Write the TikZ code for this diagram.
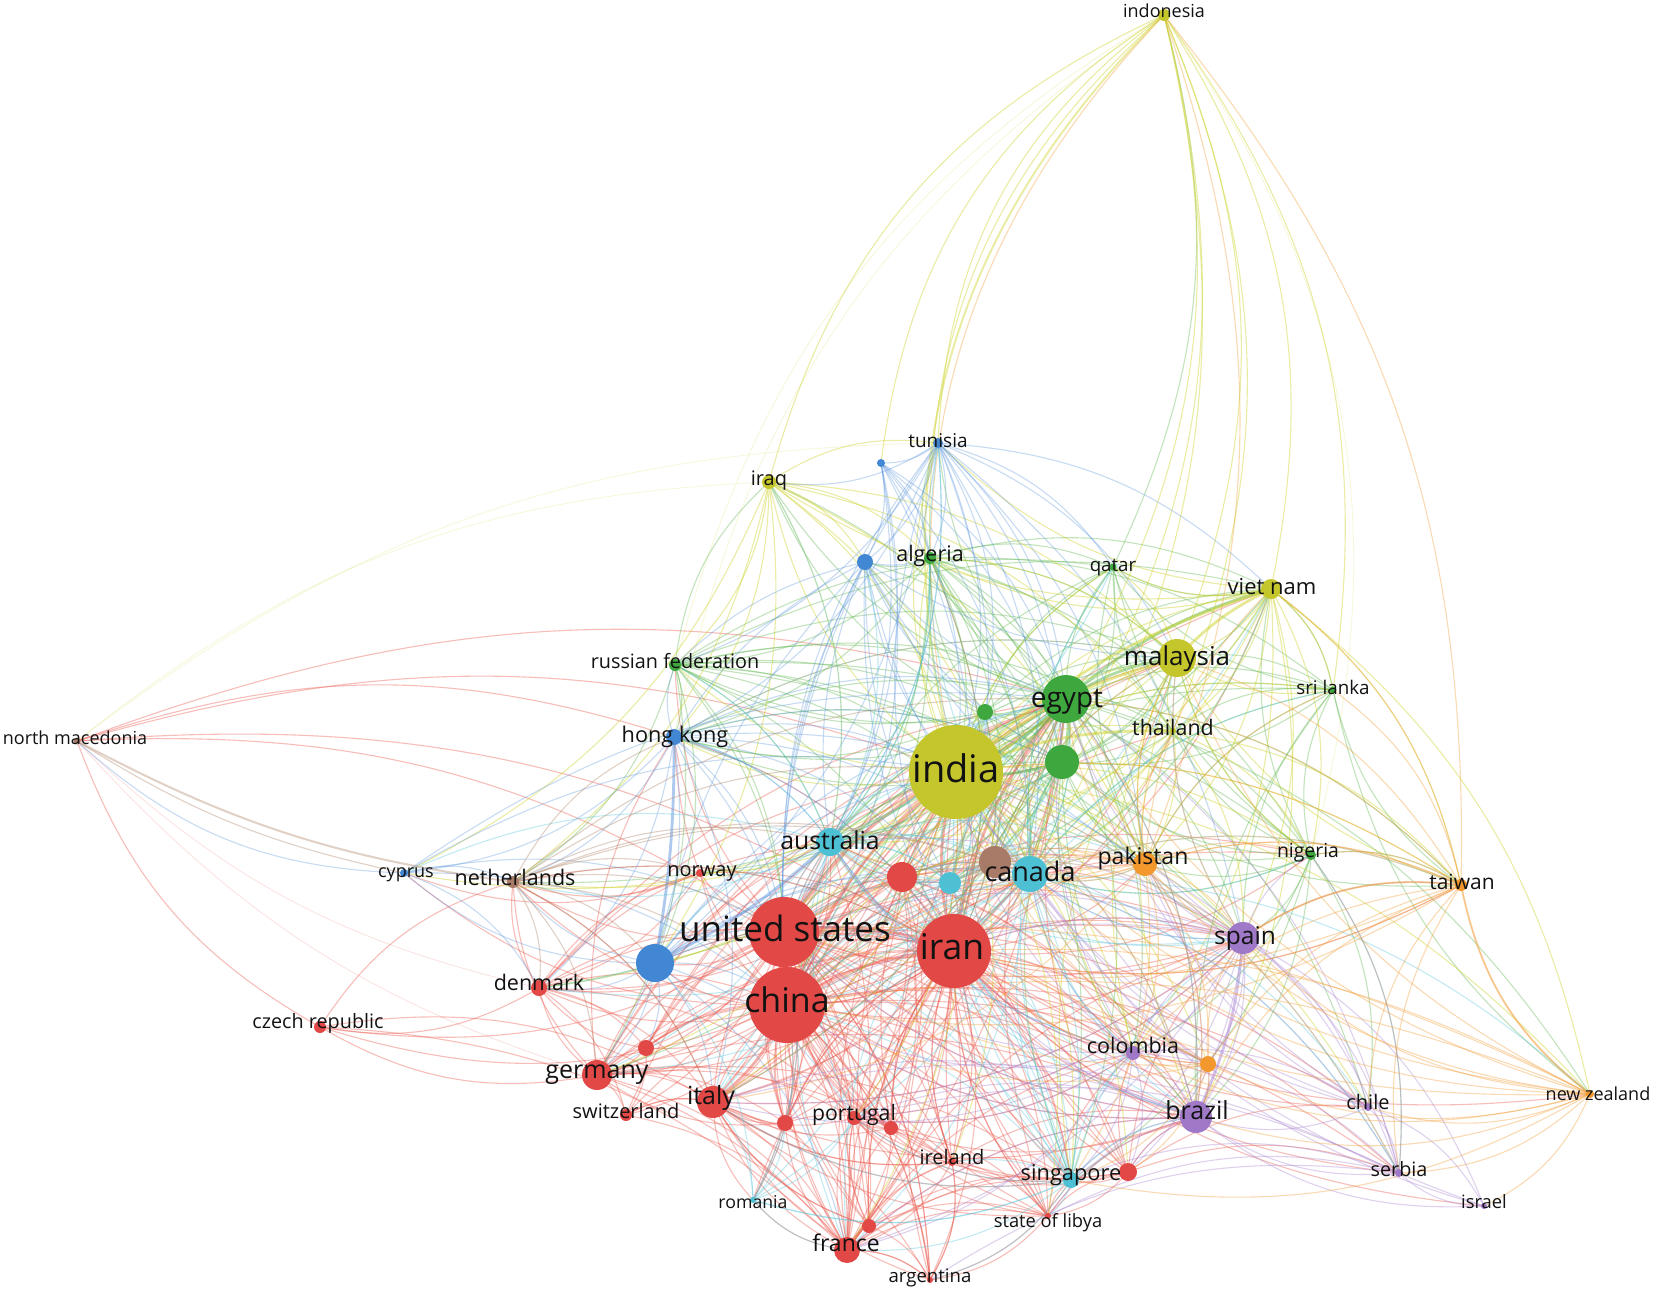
\documentclass[tikz,border=0pt]{standalone}
\usepackage{fontspec}
\setmainfont{Open Sans}
\pgfdeclarelayer{edges}
\pgfsetlayers{edges,main}
\definecolor{cR}{RGB}{225,72,70}
\definecolor{cG}{RGB}{62,168,62}
\definecolor{cB}{RGB}{66,135,212}
\definecolor{cY}{RGB}{196,198,44}
\definecolor{cP}{RGB}{160,120,200}
\definecolor{cC}{RGB}{78,192,212}
\definecolor{cO}{RGB}{242,152,44}
\definecolor{cBr}{RGB}{168,122,104}
\definecolor{eRc}{RGB}{236,92,80}
\definecolor{eGc}{RGB}{96,184,80}
\definecolor{eBc}{RGB}{92,150,222}
\definecolor{eYc}{RGB}{206,210,40}
\definecolor{ePc}{RGB}{172,134,210}
\definecolor{eCc}{RGB}{86,198,220}
\definecolor{eOc}{RGB}{244,158,56}
\definecolor{eBrc}{RGB}{176,132,104}
\definecolor{labc}{RGB}{18,18,18}
\newcommand{\vfan}[4]{\foreach \tgt in {#4}{\draw[#1] (#2.center) to[bend left=#3] (\tgt.center);}}
\begin{document}
\begin{tikzpicture}[x=1pt,y=-1pt,
  nd/.style={circle,inner sep=0pt,minimum size=#1,draw=none},
  lab/.style={font=\fontsize{#1}{#1}\selectfont,text=labc,inner sep=0pt,text height={0.72*#1},text depth={0.18*#1}},
  ebase/.style={line width=1.1pt,draw opacity=0.34},
  eR/.style={ebase,draw=eRc,draw opacity=0.4},
  eG/.style={ebase,draw=eGc,draw opacity=0.38},
  eB/.style={ebase,draw=eBc},
  eY/.style={ebase,draw=eYc,draw opacity=0.42},
  eP/.style={ebase,draw=ePc,draw opacity=0.38},
  eC/.style={ebase,draw=eCc,draw opacity=0.36},
  eO/.style={ebase,draw=eOc,draw opacity=0.38},
  eBr/.style={ebase,draw=eBrc,draw opacity=0.38},
  faint/.style={line width=0.8pt,draw opacity=0.18},
  thick2/.style={line width=2.8pt,draw opacity=0.5}]
\useasboundingbox (0,0) rectangle (1655,1291);
% ---------------- nodes ----------------
\node[nd=12,fill=cY] (indo) at (1164,15) {};
\node[nd=10,fill=cB] (tun) at (938,443) {};
\node[nd=8,fill=cB] (bdot) at (881,463) {};
\node[nd=14,fill=cY] (iraq) at (769,482) {};
\node[nd=16,fill=cB] (bnode) at (865,562) {};
\node[nd=12,fill=cG] (alg) at (930,558) {};
\node[nd=7,fill=cG] (qat) at (1113,567) {};
\node[nd=20,fill=cY] (viet) at (1271,589) {};
\node[nd=12,fill=cG] (rus) at (675,665) {};
\node[nd=38,fill=cY] (mal) at (1177,658) {};
\node[nd=48,fill=cG] (egy) at (1066,699) {};
\node[nd=7,fill=cG] (sri) at (1333,690) {};
\node[nd=16,fill=cG] (gsm) at (985,712) {};
\node[nd=16,fill=cB] (hk) at (674,737) {};
\node[nd=7,fill=cBr] (nmac) at (77,741) {};
\node[nd=6,fill=cY] (thai) at (1173,731) {};
\node[nd=34,fill=cG] (ggr) at (1062,762) {};
\node[nd=94,fill=cY] (india) at (956,772) {};
\node[nd=28,fill=cC] (aus) at (830,842) {};
\node[nd=32,fill=cBr] (brn) at (995,862) {};
\node[nd=30,fill=cR] (rc) at (902,877) {};
\node[nd=22,fill=cC] (csm) at (950,883) {};
\node[nd=36,fill=cC] (can) at (1030,874) {};
\node[nd=24,fill=cO] (pak) at (1145,864) {};
\node[nd=10,fill=cG] (nig) at (1311,855) {};
\node[nd=12,fill=cO] (tai) at (1461,885) {};
\node[nd=8,fill=cB] (cyp) at (404,873) {};
\node[nd=12,fill=cBr] (neth) at (513,882) {};
\node[nd=8,fill=cR] (nor) at (700,873) {};
\node[nd=70,fill=cR] (usa) at (784,932) {};
\node[nd=74,fill=cR] (iran) at (954,951) {};
\node[nd=32,fill=cP] (spa) at (1243,938) {};
\node[nd=38,fill=cB] (bbig) at (655,963) {};
\node[nd=16,fill=cR] (den) at (539,988) {};
\node[nd=76,fill=cR] (chn) at (787,1005) {};
\node[nd=12,fill=cR] (cze) at (320,1027) {};
\node[nd=14,fill=cP] (col) at (1133,1053) {};
\node[nd=16,fill=cO] (orn) at (1208,1064) {};
\node[nd=30,fill=cR] (ger) at (597,1075) {};
\node[nd=16,fill=cR] (rsma) at (646,1048) {};
\node[nd=32,fill=cR] (ita) at (713,1102) {};
\node[nd=12,fill=cR] (swi) at (626,1115) {};
\node[nd=14,fill=cR] (por) at (854,1118) {};
\node[nd=16,fill=cR] (rsmb) at (785,1123) {};
\node[nd=14,fill=cR] (rsmc) at (891,1128) {};
\node[nd=32,fill=cP] (bra) at (1196,1117) {};
\node[nd=8,fill=cP] (chi) at (1368,1107) {};
\node[nd=8,fill=cO] (nz) at (1590,1094) {};
\node[nd=8,fill=cR] (ire) at (952,1162) {};
\node[nd=16,fill=cC] (sing) at (1071,1180) {};
\node[nd=18,fill=cR] (rsg) at (1128,1172) {};
\node[nd=8,fill=cP] (ser) at (1399,1173) {};
\node[nd=6,fill=cC] (rom) at (753,1200) {};
\node[nd=6,fill=cP] (isr) at (1484,1206) {};
\node[nd=6,fill=cR] (lib) at (1048,1216) {};
\node[nd=14,fill=cR] (rsmd) at (869,1226) {};
\node[nd=26,fill=cR] (fra) at (847,1250) {};
\node[nd=6,fill=cR] (arg) at (930,1280) {};
% ---------------- edges ----------------
\begin{pgfonlayer}{edges}
\fill[white] (0,0) rectangle (1655,1291);
% red
\vfan{eR}{chn}{20}{india,aus,brn,rc,csm,can,pak,nor,bbig,den,ger,rsma,ita,swi,por,rsmb,rsmc,bra,col,ire,sing,rsg,rom,lib,rsmd,fra,arg,spa,egy,ggr,mal,neth,cze,hk,orn,nig,chi,ser,thai,viet,cyp}
\vfan{eR}{usa}{20}{india,aus,brn,rc,csm,can,pak,nor,bbig,den,ger,rsma,ita,swi,por,rsmb,rsmc,bra,col,ire,sing,rsg,rom,lib,rsmd,fra,arg,spa,egy,ggr,mal,neth,cze,hk,orn,nig,chi,ser,rus}
\vfan{eR}{iran}{-20}{india,aus,brn,rc,csm,can,pak,nor,bbig,den,ger,rsma,ita,swi,por,rsmb,rsmc,bra,col,ire,sing,rsg,rom,lib,rsmd,fra,arg,spa,egy,ggr,gsm,mal,viet,thai,neth,hk,orn,nig,chi,ser,alg,tai,nz,isr}
\vfan{eR,thick2}{chn}{15}{usa,iran,india,ita}
\vfan{eR,thick2}{usa}{15}{iran,india}
\vfan{eR,thick2}{iran}{15}{india,egy}
\vfan{eR}{chn}{-18}{ita,ger,fra,por,den,rsma,rsmb,rsmc,iran,spa,bra,can,aus,india,egy}
\vfan{eR}{usa}{-18}{chn,ita,ger,fra,por,den,rsma,rsmb,rsmc,iran,spa,bra,can,aus,egy}
\vfan{eR}{iran}{18}{chn,ita,ger,fra,por,rsmb,rsmc,spa,bra,can,aus,egy,col,sing,rsg,ire,lib}
\vfan{eR}{rc}{20}{india,egy,ita,ger,fra,por,den,bra,sing,can,aus,rsmb,rsmc,ire,col,spa,mal}
\vfan{eR}{ger}{20}{den,ita,swi,fra,neth,cze,por,rsma,rsmb,ire,aus,india,egy,sing,bra,spa,hk}
\vfan{eR}{ita}{-20}{fra,por,rom,swi,den,rsmb,rsmc,arg,lib,ire,sing,spa,bra,india,egy,rsmd,neth,can}
\vfan{eR}{fra}{20}{por,rsmd,arg,ire,lib,rom,sing,rsg,bra,col,rsmc,spa,india,can,rsmb}
\vfan{eR}{fra}{-15}{chn,usa,iran,ita,ger,egy,aus}
\vfan{eR}{den}{20}{neth,cze,swi,rsma,india,egy,aus,por,nor}
\vfan{eR}{por}{-20}{rsmd,ire,lib,sing,rsg,bra,spa,col,india,egy,rsmc}
\vfan{eR}{rsg}{20}{sing,bra,lib,ire,col,india,egy,rsmc,chi,ser,spa}
\vfan{eR}{rsmd}{20}{arg,lib,ire,sing,chn,usa,iran,por,ita,india}
\vfan{eR}{rsma}{20}{swi,india,egy,chn,usa,ger,den}
\vfan{eR}{cze}{20}{nmac,neth,ita,fra}
\vfan{eR}{nmac}{18}{usa,india,egy,hk,iran}
\vfan{eR,faint}{nmac}{-15}{den,ger}
\vfan{eR}{nor}{20}{neth,den,cyp}
\vfan{eR}{ire}{20}{lib,sing,arg,bra,chn,usa,iran,fra,ita,india,egy}
\vfan{eR}{swi}{20}{ita,fra,india}
\vfan{eR}{rsmb}{20}{rsmc,india,egy,chn,usa,iran,ger,fra,can,aus}
\vfan{eR}{rsmc}{20}{india,egy,lib,chn,usa,iran,fra}
\vfan{eR}{lib}{20}{sing,rsg,chn,usa,iran,india,egy,col,bra}
\vfan{eR}{arg}{-20}{fra,ire,lib,chn,usa,iran,ita,por,sing}
% green
\vfan{eG}{egy}{20}{india,mal,viet,thai,alg,qat,sri,nig,gsm,ggr,rus,hk,aus,can,brn,rc,csm,pak,spa,tai,iraq,tun,bnode,sing,bra,col,ita,ger,den,nor,neth,chi,nz}
\vfan{eG}{egy}{-18}{usa,chn,iran,aus,rc,csm,hk,rus,alg,bnode}
\vfan{eG,thick2}{egy}{12}{india,mal,ggr,viet}
\vfan{eG}{ggr}{-20}{india,mal,viet,thai,alg,qat,sri,nig,gsm,rus,hk,aus,can,pak,spa,tai,bra,col,sing,iraq,brn}
\vfan{eG}{ggr}{18}{usa,chn,iran,rc,csm,aus,hk}
\vfan{eG,thick2}{ggr}{12}{india}
\vfan{eG}{gsm}{20}{india,mal,viet,alg,qat,rus,hk,aus,can,iraq,usa,chn,iran}
\vfan{eG}{alg}{20}{india,mal,viet,qat,sri,nig,rus,hk,aus,can,pak,tun,bnode,thai,brn,sing,usa,chn,iran}
\vfan{eG}{qat}{-20}{india,mal,viet,thai,sri,nig,rus,can,pak,indo,aus}
\vfan{eG}{rus}{20}{india,mal,viet,thai,hk,aus,can,pak,iraq,nig,spa,neth,bbig,usa,chn,iran,ger}
\vfan{eG}{sri}{-20}{india,mal,viet,thai,nig,can,pak,tai,spa,bra,nz,aus}
\vfan{eG}{nig}{20}{india,mal,viet,thai,can,pak,spa,bra,col,tai,ser,sing,chi}
% yellow
\vfan{eY}{india}{20}{mal,viet,thai,iraq,qat,alg,rus,hk,tun,aus,brn,rc,csm,can,pak,nig,sri,tai,spa,bra,col,sing,orn,ger,ita,fra,den,neth,cyp,nor,bbig,por,rsg,nz,chi,ser,ire,lib}
\vfan{eY,thick2}{india}{12}{mal,viet,thai}
\vfan{eY}{mal}{-20}{viet,thai,iraq,qat,sri,nig,can,pak,tai,spa,bra,aus,alg,brn,rc,sing,col,hk}
\vfan{eY,thick2}{mal}{10}{viet}
\vfan{eY}{viet}{20}{thai,iraq,qat,sri,nig,can,pak,tai,spa,bra,aus,alg,brn,rc,col,tun,nz}
\vfan{eY}{iraq}{20}{alg,rus,hk,aus,can,pak,tun,bnode,neth,cyp,bbig,thai,india}
\vfan{eY}{indo}{-25}{tun,iraq,alg,bdot}
\vfan{eY,faint}{indo}{-22}{rus,hk}
\vfan{eY,line width=2pt}{indo}{-30}{india}
\vfan{eY}{indo}{22}{egy,mal,viet,sri,thai,can,ggr}
\vfan{eY,faint}{indo}{25}{nig}
\vfan{eO}{indo}{-28}{india}
\vfan{eO}{indo}{20}{pak,tai}
\vfan{eY}{thai}{20}{pak,can,nig,tai,spa,aus,brn}
% blue
\vfan{eB}{tun}{20}{bdot,bnode,alg,india,egy,ggr,gsm,mal,viet,aus,can,csm,hk,bbig,rus,iraq,qat,pak,spa}
\vfan{eB}{tun}{-20}{usa,chn,iran}
\vfan{eB}{bdot}{20}{bnode,alg,india,egy,ggr,aus,can,usa,chn,iran}
\vfan{eB}{bnode}{-15}{alg,india,egy,ggr,gsm,hk,aus,can,csm,usa,chn,iran,bbig,rus,mal,pak}
\vfan{eB}{hk}{20}{aus,india,egy,usa,chn,iran,can,csm,ggr,neth,den,ger,ita,rus,mal,pak,cyp}
\vfan{eB,thick2}{hk}{5}{bbig}
\vfan{eB}{bbig}{20}{usa,chn,iran,india,egy,can,csm,den,ger,ita,fra,neth,cyp,rsma,nor,por,rc}
\vfan{eB,thick2}{bbig}{-8}{aus}
\vfan{eB}{cyp}{20}{neth,nmac,usa,chn,den,india,egy}
% purple
\vfan{eP}{spa}{20}{bra,col,chi,ser,isr,india,egy,can,pak,nig,orn,sing,rsg,por,ita,fra,tai,mal}
\vfan{eP}{spa}{-18}{usa,chn,iran,col,aus}
\vfan{eP,thick2}{spa}{10}{bra}
\vfan{eP}{bra}{-20}{col,chi,ser,isr,india,egy,can,pak,orn,sing,rsg,por,ita,fra,lib}
\vfan{eP}{bra}{18}{usa,chn,iran,aus}
\vfan{eP}{col}{20}{chi,ser,india,egy,can,orn,sing,rsg,por,ita,fra,aus,usa,chn,iran}
\vfan{eP}{chi}{20}{ser,isr,india,egy,can,pak}
\vfan{eP}{ser}{-20}{isr,india,egy,can,pak,nig,sing,lib,arg,por,ita}
\vfan{eP}{isr}{20}{india,can}
% cyan
\vfan{eC}{aus}{20}{csm,can,india,egy,rc,brn,ger,ita,den,neth,nor,sing,pak,mal}
\vfan{eC}{aus}{-20}{alg,tun,bnode,hk,rus,iraq,viet,qat,gsm,ggr,usa,chn,iran,bbig,cyp,bra,spa,col,fra,por}
\vfan{eC}{can}{-20}{csm,india,egy,brn,rc,pak,spa,bra,col,sing,orn,mal,viet,nig,ita}
\vfan{eC}{can}{20}{alg,tun,qat,sri,gsm,ggr,usa,chn,iran,tai,nz,chi,ser,fra,por,ger,den,aus}
\vfan{eC}{csm}{20}{india,egy,brn,rc,sing}
\vfan{eC}{csm}{-20}{usa,chn,iran,can,aus,mal,viet,ggr,gsm,ita,fra,bra,spa}
\vfan{eC}{sing}{20}{india,egy,col,bra,spa,lib,rsg,ita,fra,por,rom,arg,csm}
\vfan{eC}{sing}{-16}{usa,chn,iran,can,aus,ire}
\vfan{eC}{rom}{-20}{ita,fra,por,sing,india,bbig,rsmb,chn,usa,iran}
% orange
\vfan{eO}{pak}{20}{india,egy,mal,viet,thai,can,brn,spa,bra,col,orn,tai,nig,sri,sing,ita,aus}
\vfan{eO}{pak}{-18}{usa,chn,iran,rc,csm,ggr}
\vfan{eO}{tai}{-20}{nz,pak,spa,bra,col,orn,india,egy,mal,viet,can,chi,ser,sri,nig}
\vfan{eO,line width=2pt}{tai}{-20}{spa,nz}
\vfan{eO}{tai}{20}{usa,chn,iran}
\vfan{eO}{nz}{20}{bra,spa,col,pak,orn,india,egy,chi,ser,isr,sing,aus,can,mal}
\vfan{eO}{nz}{-15}{usa,chn,iran}
\vfan{eO}{orn}{20}{col,bra,spa,india,can,sing,rsg,usa,chn,iran}
% brown
\vfan{eBr}{brn}{20}{india,egy,can,csm,rc,aus,pak,spa,mal,usa,chn,iran}
\vfan{eBr}{neth}{20}{usa,chn,iran,india,egy,aus,ger,den,ita,bbig,hk,nor,brn,can}
\vfan{eBr,line width=2pt}{nmac}{-10}{neth}
\vfan{eBr}{nmac}{-10}{cyp}
\vfan{eY,faint}{nmac}{18}{iraq,tun}
\end{pgfonlayer}
% ---------------- labels ----------------
\node[lab=18] (indoL) at (1164,13) {indonesia};
\node[lab=19] (tunL) at (938,442) {tunisia};
\node[lab=20] (iraqL) at (769,480) {iraq};
\node[lab=21.5] (algL) at (930,556) {algeria};
\node[lab=18.7] (qatL) at (1113,566) {qatar};
\node[lab=22] (vietL) at (1272,589) {viet nam};
\node[lab=19.8] (rusL) at (675,663) {russian federation};
\node[lab=26] (malL) at (1177,658) {malaysia};
\node[lab=28] (egyL) at (1067,700) {egypt};
\node[lab=18.8] (sriL) at (1333,689) {sri lanka};
\node[lab=21.7] (hkL) at (675,737) {hong kong};
\node[lab=18] (nmacL) at (75,740) {north macedonia};
\node[lab=21.4] (thaiL) at (1173,730) {thailand};
\node[lab=38] (indiaL) at (956,772) {india};
\node[lab=24.8] (ausL) at (830,843) {australia};
\node[lab=27] (canL) at (1030,874) {canada};
\node[lab=23] (pakL) at (1143,858) {pakistan};
\node[lab=19.4] (nigL) at (1308,852) {nigeria};
\node[lab=21] (taiL) at (1462,884) {taiwan};
\node[lab=18] (cypL) at (406,873) {cyprus};
\node[lab=21.5] (nethL) at (515,880) {netherlands};
\node[lab=20] (norL) at (702,871) {norway};
\node[lab=35] (usaL) at (785,932) {united states};
\node[lab=35.5] (iranL) at (952,950) {iran};
\node[lab=24.5] (spaL) at (1245,938) {spain};
\node[lab=21.5] (denL) at (539,985) {denmark};
\node[lab=34] (chnL) at (787,1003) {china};
\node[lab=19.8] (czeL) at (318,1023) {czech republic};
\node[lab=21.5] (colL) at (1133,1048) {colombia};
\node[lab=25] (gerL) at (597,1072) {germany};
\node[lab=25] (itaL) at (711,1098) {italy};
\node[lab=20] (swiL) at (626,1113) {switzerland};
\node[lab=21.2] (porL) at (854,1115) {portugal};
\node[lab=25] (braL) at (1197,1113) {brazil};
\node[lab=20] (chiL) at (1368,1104) {chile};
\node[lab=18] (nzL) at (1598,1096) {new zealand};
\node[lab=20] (ireL) at (952,1159) {ireland};
\node[lab=21.8] (singL) at (1071,1175) {singapore};
\node[lab=19.8] (serL) at (1399,1171) {serbia};
\node[lab=17.7] (romL) at (753,1204) {romania};
\node[lab=18.4] (isrL) at (1484,1204) {israel};
\node[lab=18.3] (libL) at (1048,1223) {state of libya};
\node[lab=23] (fraL) at (846,1245) {france};
\node[lab=18.6] (argL) at (930,1277) {argentina};
\end{tikzpicture}
\end{document}
